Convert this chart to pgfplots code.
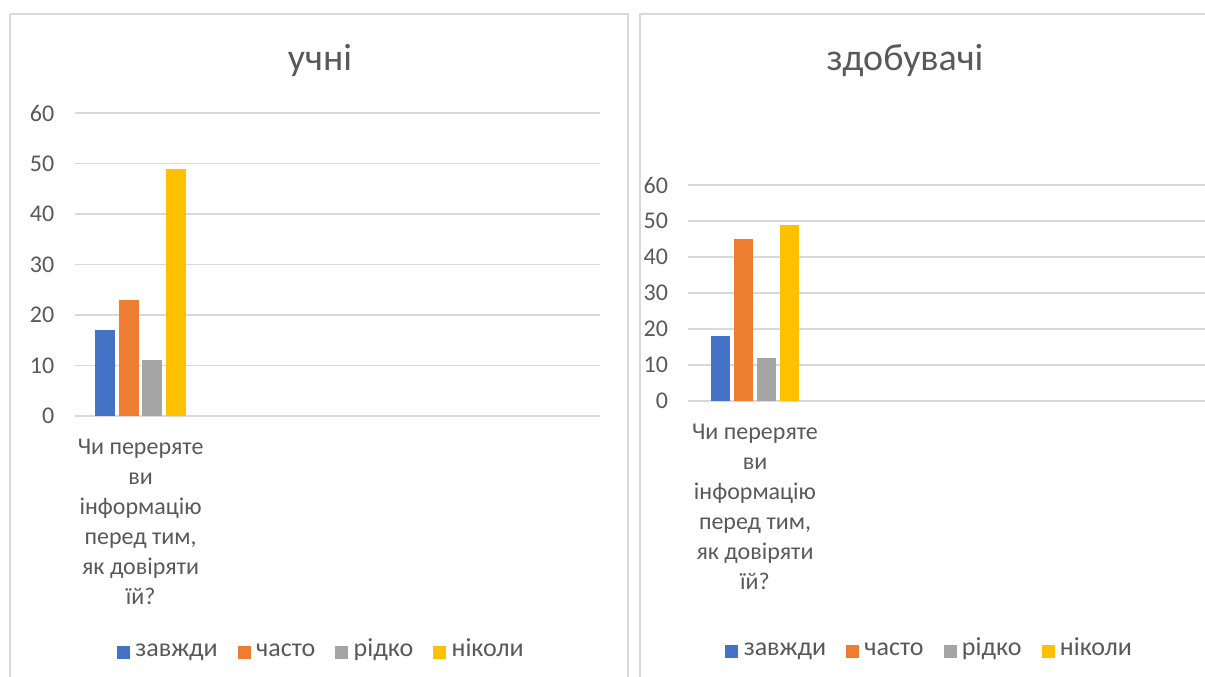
\documentclass[border=0pt]{standalone}
\usepackage{fontspec}
\setmainfont{Carlito}
\usepackage{pgfplots}
\pgfplotsset{compat=1.18}
\definecolor{cblue}{HTML}{4472C4}
\definecolor{corange}{HTML}{ED7D31}
\definecolor{cgray}{HTML}{A5A5A5}
\definecolor{cyellow}{HTML}{FFC000}
\definecolor{gridc}{HTML}{D9D9D9}
\definecolor{txt}{HTML}{595959}
\newcommand\catlabel{\parbox[t]{110pt}{\centering\fontsize{18}{22.4}\selectfont
\setlength{\baselineskip}{22.4pt}%
Чи переряте\\ви\\інформацію\\перед тим,\\як довіряти\\їй?\par}}
\pgfplotsset{
  panel/.style={
    scale only axis,
    xmin=-0.5, xmax=3.5, ymin=0, ymax=60,
    ytick={0,10,...,60},
    xtick={0},
    xticklabel={\catlabel},
    xticklabel style={text=txt, yshift=-14pt},
    yticklabel style={font=\fontsize{18}{20}\selectfont, text=txt, xshift=-12pt},
    /pgf/number format/assume math mode=true,
    axis line style={draw=none},
    major tick length=0pt,
    ymajorgrids, grid style={gridc, line width=1pt},
    enlargelimits=false,
    legend columns=4,
    legend style={draw=none, font=\fontsize{19.5}{21}\selectfont, text=txt,
      nodes={text depth=0.25em, text height=0.7em},
      /tikz/every odd column/.append style={column sep=2pt},
      /tikz/every even column/.append style={column sep=13pt}},
  },
  sqlegend/.style={legend image code/.code={\fill[##1] (0pt,-4.2pt) rectangle (9.8pt,5.6pt);}},
}
\begin{document}
\begin{tikzpicture}
\path[use as bounding box] (0,0) rectangle (903.75pt,507.75pt);
\draw[gridc, line width=0.8pt] (7.5pt,497.25pt) -- (471pt,497.25pt) -- (471pt,-5pt);
\draw[gridc, line width=0.8pt] (7.5pt,-5pt) -- (7.5pt,497.25pt);
\draw[gridc, line width=0.8pt] (480pt,-5pt) -- (480pt,497.25pt) -- (910pt,497.25pt);
\node[text=txt, font=\fontsize{28.5}{30}\selectfont] at (240pt,462pt) {учні};
\node[text=txt, font=\fontsize{28.5}{30}\selectfont] at (678.75pt,462pt) {здобувачі};

\begin{axis}[panel, at={(56.25pt,195.75pt)}, anchor=south west,
  width=393.75pt, height=227.25pt,
  ybar=2.6pt, bar width=15pt, sqlegend,
  legend style={at={(0.47,-0.783)}, anchor=center}]
\addplot[fill=cblue, draw=none] coordinates {(0,17)};
\addplot[fill=corange, draw=none] coordinates {(0,23)};
\addplot[fill=cgray, draw=none] coordinates {(0,11)};
\addplot[fill=cyellow, draw=none] coordinates {(0,49)};
\legend{завжди, часто, рідко, ніколи}
\end{axis}

\begin{axis}[panel, at={(516pt,207pt)}, anchor=south west,
  width=402pt, height=162pt,
  ybar=3.3pt, bar width=14pt, sqlegend,
  yticklabel style={xshift=0.5pt},
  legend style={at={(0.4515,-1.166)}, anchor=center}]
\addplot[fill=cblue, draw=none] coordinates {(0,18)};
\addplot[fill=corange, draw=none] coordinates {(0,45)};
\addplot[fill=cgray, draw=none] coordinates {(0,12)};
\addplot[fill=cyellow, draw=none] coordinates {(0,49)};
\legend{завжди, часто, рідко, ніколи}
\end{axis}
\end{tikzpicture}
\end{document}
